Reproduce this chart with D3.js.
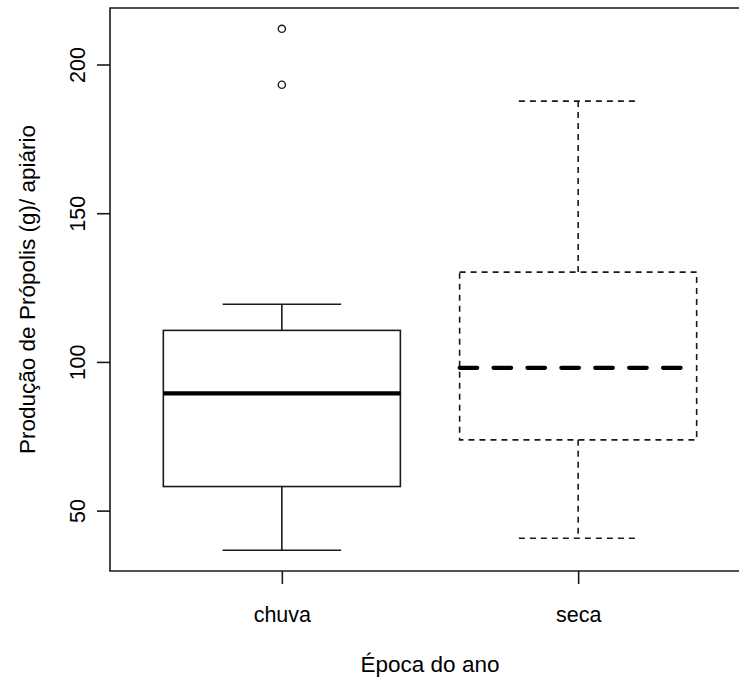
<!DOCTYPE html>
<html>
<head>
<meta charset="utf-8">
<script src="https://cdn.jsdelivr.net/npm/d3@7"></script>
<style>
  html, body { margin: 0; padding: 0; background: #fff; overflow: hidden; }
  svg { display: block; overflow: hidden; }
  text { font-family: "Liberation Sans", Arial, sans-serif; fill: #000; }
</style>
</head>
<body>
<svg id="chart" width="739" height="677"></svg>
<script>
// Boxplot summaries per season
const categories = ["chuva", "seca"];
const lowerWhisker = [36.7, 40.7];
const q1 = [58.1, 73.8];
const median = [89.4, 98.0];
const q3 = [110.6, 130.2];
const upperWhisker = [119.4, 187.7];
const outliers = [[212.0, 193.2], []];
const yTicks = [50, 100, 150, 200];

const yLabel = "Produção de Própolis (g)/ apiário";
const xLabel = "Época do ano";

const svg = d3.select("#chart");
const plotLeft = 110, plotRight = 750, plotTop = 8, plotBottom = 571;
const tickFont = 21.5, titleFont = 22.5;
const ink = "#1a1a1a";

const x = d3.scaleLinear().domain([0.42, 2.58]).range([plotLeft, plotRight]);
const y = d3.scaleLinear().domain([29.7, 219.0]).range([plotBottom, plotTop]);

const boxHalf = 0.4, stapleHalf = 0.2;

// line styles per group: chuva solid, seca dashed
const dash = ["none", "6,5"];
const medDash = ["none", "17.6,16.3"];

categories.forEach((c, i) => {
  const g = svg.append("g").attr("fill", "none").attr("stroke", ink).attr("stroke-width", 1.6);
  const cx = x(i + 1);
  // whiskers
  g.append("line").attr("x1", cx).attr("x2", cx).attr("y1", y(q3[i])).attr("y2", y(upperWhisker[i]))
    .attr("stroke-dasharray", dash[i]);
  g.append("line").attr("x1", cx).attr("x2", cx).attr("y1", y(q1[i])).attr("y2", y(lowerWhisker[i]))
    .attr("stroke-dasharray", dash[i]);
  // staples
  [upperWhisker[i], lowerWhisker[i]].forEach(v => {
    g.append("line").attr("x1", x(i + 1 - stapleHalf)).attr("x2", x(i + 1 + stapleHalf))
      .attr("y1", y(v)).attr("y2", y(v)).attr("stroke-dasharray", dash[i]);
  });
  // box
  g.append("rect")
    .attr("x", x(i + 1 - boxHalf)).attr("width", x(i + 1 + boxHalf) - x(i + 1 - boxHalf))
    .attr("y", y(q3[i])).attr("height", y(q1[i]) - y(q3[i]))
    .attr("stroke-dasharray", dash[i]);
  // median
  g.append("line").attr("x1", x(i + 1 - boxHalf)).attr("x2", x(i + 1 + boxHalf))
    .attr("y1", y(median[i])).attr("y2", y(median[i]))
    .attr("stroke", "#000").attr("stroke-width", 4.2)
    .attr("stroke-linecap", i === 1 ? "round" : "butt")
    .attr("stroke-dasharray", medDash[i]);
  // outliers
  g.selectAll("circle").data(outliers[i]).join("circle")
    .attr("cx", cx).attr("cy", d => y(d)).attr("r", 3.6).attr("stroke-width", 1.4);
});

// frame: left, top and bottom edges; the right edge lies past the page
const frame = d3.path();
frame.moveTo(plotRight, plotTop);
frame.lineTo(plotLeft, plotTop);
frame.lineTo(plotLeft, plotBottom);
frame.lineTo(plotRight, plotBottom);
svg.append("path").attr("d", frame.toString())
  .attr("fill", "none").attr("stroke", ink).attr("stroke-width", 1.6);

// y axis
const yAxis = svg.append("g").attr("transform", `translate(${plotLeft},0)`)
  .call(d3.axisLeft(y).tickValues(yTicks).tickSize(13).tickFormat(d3.format("d")));
yAxis.select(".domain").remove();
yAxis.selectAll(".tick line").attr("stroke", ink).attr("stroke-width", 1.6);
yAxis.selectAll(".tick text")
  .attr("x", null).attr("dy", null)
  .attr("transform", "translate(-25,0) rotate(-90)")
  .attr("text-anchor", "middle")
  .style("font-size", tickFont + "px").style("font-family", "Liberation Sans, Arial, sans-serif");

// x axis
const xAxis = svg.append("g").attr("transform", `translate(0,${plotBottom})`)
  .call(d3.axisBottom(x).tickValues([1, 2]).tickSize(13).tickFormat(d => categories[d - 1]));
xAxis.select(".domain").remove();
xAxis.selectAll(".tick line").attr("stroke", ink).attr("stroke-width", 1.6);
xAxis.selectAll(".tick text")
  .attr("y", 51).attr("dy", null)
  .style("font-size", tickFont + "px").style("font-family", "Liberation Sans, Arial, sans-serif");

// axis titles
svg.append("text").attr("x", (plotLeft + plotRight) / 2).attr("y", 672)
  .attr("text-anchor", "middle").style("font-size", titleFont + "px").text(xLabel);
svg.append("text").attr("transform", `translate(35,${(plotTop + plotBottom) / 2}) rotate(-90)`)
  .attr("text-anchor", "middle").style("font-size", titleFont + "px").text(yLabel);
</script>
</body>
</html>
